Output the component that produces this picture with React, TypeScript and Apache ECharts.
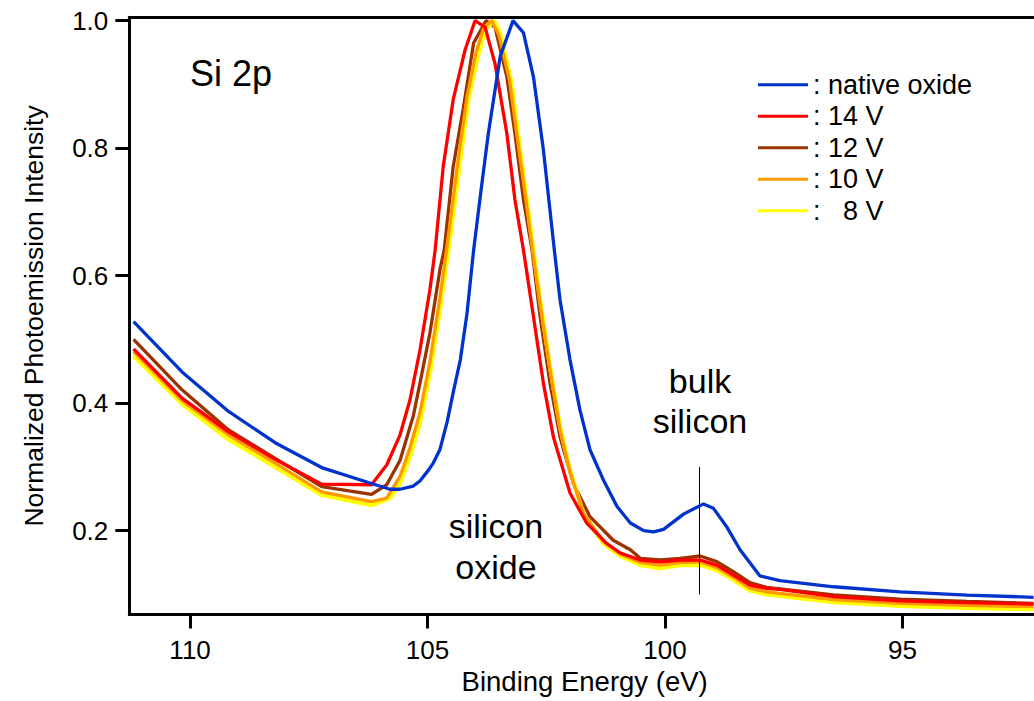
import React, { useEffect, useRef } from "react";
import * as echarts from "echarts";

// ---------- data ----------
const xTicks = [110, 105, 100, 95];
const yTicks = [0.2, 0.4, 0.6, 0.8, 1.0];

const nativeE = [111.19, 110.17, 109.19, 108.21, 107.23, 106.18, 105.79, 105.58, 105.3, 105.16, 104.98, 104.88, 104.74, 104.59, 104.45, 104.31, 104.17, 104.03, 103.88, 103.72, 103.47, 103.2, 102.98, 102.77, 102.56, 102.33, 102.21, 102.0, 101.79, 101.58, 101.3, 101.01, 100.73, 100.45, 100.24, 100.03, 99.61, 99.19, 98.98, 98.7, 98.42, 98.0, 97.58, 96.45, 95.05, 93.64, 92.24];
const nativeI = [0.528, 0.449, 0.387, 0.338, 0.299, 0.274, 0.265, 0.265, 0.27, 0.278, 0.295, 0.306, 0.327, 0.37, 0.42, 0.468, 0.54, 0.64, 0.73, 0.823, 0.944, 1.0, 0.981, 0.912, 0.797, 0.64, 0.562, 0.468, 0.389, 0.327, 0.28, 0.238, 0.212, 0.2, 0.198, 0.202, 0.226, 0.242, 0.235, 0.206, 0.17, 0.129, 0.1216, 0.112, 0.104, 0.099, 0.0955];

const v14E = [111.19, 110.17, 109.19, 108.21, 107.23, 106.18, 105.86, 105.58, 105.37, 105.16, 104.95, 104.84, 104.67, 104.46, 104.21, 104.0, 103.79, 103.58, 103.33, 103.16, 102.98, 102.77, 102.56, 102.35, 102.0, 101.65, 101.23, 100.94, 100.52, 100.1, 99.68, 99.26, 98.91, 98.56, 98.21, 97.86, 97.58, 96.45, 95.05, 93.64, 92.24];
const v14I = [0.485, 0.408, 0.355, 0.312, 0.273, 0.272, 0.303, 0.35, 0.405, 0.483, 0.578, 0.64, 0.771, 0.876, 0.954, 1.0, 0.99, 0.933, 0.823, 0.719, 0.64, 0.536, 0.431, 0.347, 0.259, 0.212, 0.18, 0.165, 0.154, 0.151, 0.154, 0.154, 0.146, 0.1305, 0.1146, 0.1096, 0.108, 0.0965, 0.09, 0.087, 0.085];

const v12E = [111.19, 110.17, 109.19, 108.21, 107.23, 106.18, 105.86, 105.58, 105.3, 105.16, 104.95, 104.74, 104.65, 104.46, 104.25, 104.03, 103.77, 103.58, 103.33, 103.16, 102.98, 102.8, 102.63, 102.42, 102.21, 101.93, 101.58, 101.09, 100.73, 100.52, 100.1, 99.68, 99.26, 98.91, 98.56, 98.21, 97.86, 96.45, 95.05, 93.64, 92.24];
const v12I = [0.5, 0.421, 0.358, 0.3135, 0.269, 0.257, 0.272, 0.31, 0.38, 0.431, 0.51, 0.609, 0.64, 0.771, 0.861, 0.965, 1.0, 0.99, 0.912, 0.823, 0.719, 0.64, 0.536, 0.431, 0.347, 0.274, 0.222, 0.185, 0.17, 0.1567, 0.154, 0.1567, 0.1603, 0.1514, 0.1357, 0.1184, 0.111, 0.0991, 0.0924, 0.089, 0.0861];

const v10E = [111.19, 110.17, 109.19, 108.21, 107.23, 106.18, 105.86, 105.58, 105.37, 105.16, 104.95, 104.74, 104.6, 104.35, 104.17, 103.98, 103.81, 103.65, 103.5, 103.27, 103.08, 102.93, 102.79, 102.63, 102.42, 102.21, 102.0, 101.72, 101.3, 100.94, 100.52, 100.1, 99.68, 99.26, 98.91, 98.56, 98.21, 97.86, 96.45, 95.05, 93.64, 92.24];
const v10I = [0.481, 0.404, 0.35, 0.306, 0.261, 0.2455, 0.251, 0.285, 0.33, 0.385, 0.465, 0.565, 0.64, 0.785, 0.88, 0.95, 0.99, 1.0, 0.978, 0.905, 0.8, 0.72, 0.64, 0.555, 0.452, 0.358, 0.292, 0.228, 0.183, 0.163, 0.15, 0.146, 0.15, 0.151, 0.142, 0.127, 0.11, 0.104, 0.092, 0.086, 0.083, 0.081];

const v8E = [111.19, 110.17, 109.19, 108.21, 107.23, 106.18, 105.79, 105.58, 105.37, 105.16, 104.95, 104.74, 104.56, 104.31, 104.14, 103.96, 103.79, 103.6, 103.47, 103.23, 103.05, 102.91, 102.77, 102.63, 102.42, 102.21, 102.0, 101.72, 101.3, 100.94, 100.52, 100.1, 99.68, 99.26, 98.91, 98.56, 98.21, 97.86, 96.45, 95.05, 93.64, 92.24];
const v8I = [0.474, 0.399, 0.343, 0.3, 0.256, 0.24, 0.251, 0.274, 0.316, 0.368, 0.447, 0.546, 0.64, 0.781, 0.876, 0.938, 0.985, 1.0, 0.98, 0.902, 0.797, 0.719, 0.64, 0.562, 0.457, 0.363, 0.295, 0.227, 0.18, 0.16, 0.146, 0.141, 0.146, 0.146, 0.138, 0.1227, 0.1058, 0.1, 0.0877, 0.082, 0.079, 0.0767];

// marker line under the bulk-silicon peak
const bulkLineE = 99.28;
const bulkLineRange = [0.1, 0.3];

const seriesNames = ["native oxide", "14 V", "12 V", "10 V", "8 V"];

// ---------- chart ----------
const FONT = "'Liberation Sans', Arial, Helvetica, sans-serif";

function pairs(e: number[], v: number[]) {
  return e.map((x, i) => [x, v[i]]);
}

function lineSeries(name: string, color: string, width: number, data: number[][], z: number, extra: any = {}) {
  return {
    type: "line",
    name,
    color,
    data,
    z,
    symbol: "none",
    showSymbol: false,
    smooth: false,
    lineStyle: { color, width },
    emphasis: { disabled: true },
    ...extra,
  };
}

export default function App() {
  const ref = useRef<HTMLDivElement>(null);

  useEffect(() => {
    if (!ref.current) return;
    const chart = echarts.init(ref.current, undefined, { renderer: "svg" });
    const axisLine = { show: true, lineStyle: { color: "#000", width: 3 } };
    const axisTick = { show: true, inside: false, length: 14, lineStyle: { color: "#000", width: 3 } };
    chart.setOption({
      animation: false,
      backgroundColor: "#ffffff",
      grid: { left: 129.3, right: 0, top: 17.3, bottom: 86.5, containLabel: false },
      legend: {
        orient: "vertical",
        left: 758,
        top: 69,
        padding: 0,
        itemWidth: 50,
        itemHeight: 3,
        itemGap: 0,
        icon: "rect",
        selectedMode: false,
        data: seriesNames,
        formatter: (n: string) => (n === "8 V" ? ":   8 V" : ": " + n),
        textStyle: { fontSize: 27, lineHeight: 31.5, color: "#000", fontFamily: FONT },
      },
      xAxis: [
        {
          type: "value",
          inverse: true,
          min: 92.23,
          max: 111.28,
          position: "bottom",
          axisLine,
          axisTick: { ...axisTick, customValues: xTicks },
          axisLabel: {
            customValues: xTicks,
            margin: 22,
            fontSize: 26,
            color: "#000",
            fontFamily: FONT,
            formatter: (v: number) => String(v),
          },
          splitLine: { show: false },
          name: "Binding Energy (eV)",
          nameLocation: "middle",
          nameGap: 44,
          nameTextStyle: { fontSize: 27.5, color: "#000", fontFamily: FONT, padding: [0, 0, 0, 6] },
        },
        {
          type: "value",
          inverse: true,
          min: 92.23,
          max: 111.28,
          position: "top",
          axisLine,
          axisTick: { show: false },
          axisLabel: { show: false },
          splitLine: { show: false },
        },
      ],
      yAxis: {
        type: "value",
        min: 0.0685,
        max: 1.0053,
        axisLine,
        axisTick: { ...axisTick, customValues: yTicks },
        axisLabel: {
          customValues: yTicks,
          margin: 21,
          fontSize: 26,
          color: "#000",
          fontFamily: FONT,
          formatter: (v: number) => v.toFixed(1),
        },
        splitLine: { show: false },
        name: "Normalized Photoemission Intensity",
        nameLocation: "middle",
        nameRotate: 90,
        nameGap: 82,
        nameTextStyle: { fontSize: 26.5, color: "#000", fontFamily: FONT },
      },
      series: [
        lineSeries("12 V", "#993300", 3.3, pairs(v12E, v12I), 2),
        lineSeries("8 V", "#ffff00", 4.2, pairs(v8E, v8I), 3),
        lineSeries("10 V", "#ff9900", 3.3, pairs(v10E, v10I), 4),
        lineSeries("14 V", "#ff0000", 3.3, pairs(v14E, v14I), 5),
        lineSeries("native oxide", "#0033cc", 3.3, pairs(nativeE, nativeI), 6, {
          markLine: {
            silent: true,
            symbol: ["none", "none"],
            label: { show: false },
            emphasis: { disabled: true },
            lineStyle: { color: "#000", width: 1, type: "solid" },
            data: [[{ coord: [bulkLineE, bulkLineRange[1]] }, { coord: [bulkLineE, bulkLineRange[0]] }]],
          },
        }),
      ],
      graphic: [
        { type: "text", left: 190, top: 55, style: { text: "Si 2p", fontSize: 36, fontFamily: FONT, fill: "#000" } },
        { type: "text", x: 496, y: 526, style: { text: "silicon", fontSize: 34, fontFamily: FONT, fill: "#000", align: "center", verticalAlign: "middle" } },
        { type: "text", x: 496, y: 567, style: { text: "oxide", fontSize: 34, fontFamily: FONT, fill: "#000", align: "center", verticalAlign: "middle" } },
        { type: "text", x: 700, y: 381, style: { text: "bulk", fontSize: 34, fontFamily: FONT, fill: "#000", align: "center", verticalAlign: "middle" } },
        { type: "text", x: 700, y: 421, style: { text: "silicon", fontSize: 34, fontFamily: FONT, fill: "#000", align: "center", verticalAlign: "middle" } },
      ],
    });
    return () => chart.dispose();
  }, []);

  return (
    <div
      ref={ref}
      style={{ position: "absolute", left: 0, top: 0, width: 1034, height: 701, background: "#fff" }}
    />
  );
}
